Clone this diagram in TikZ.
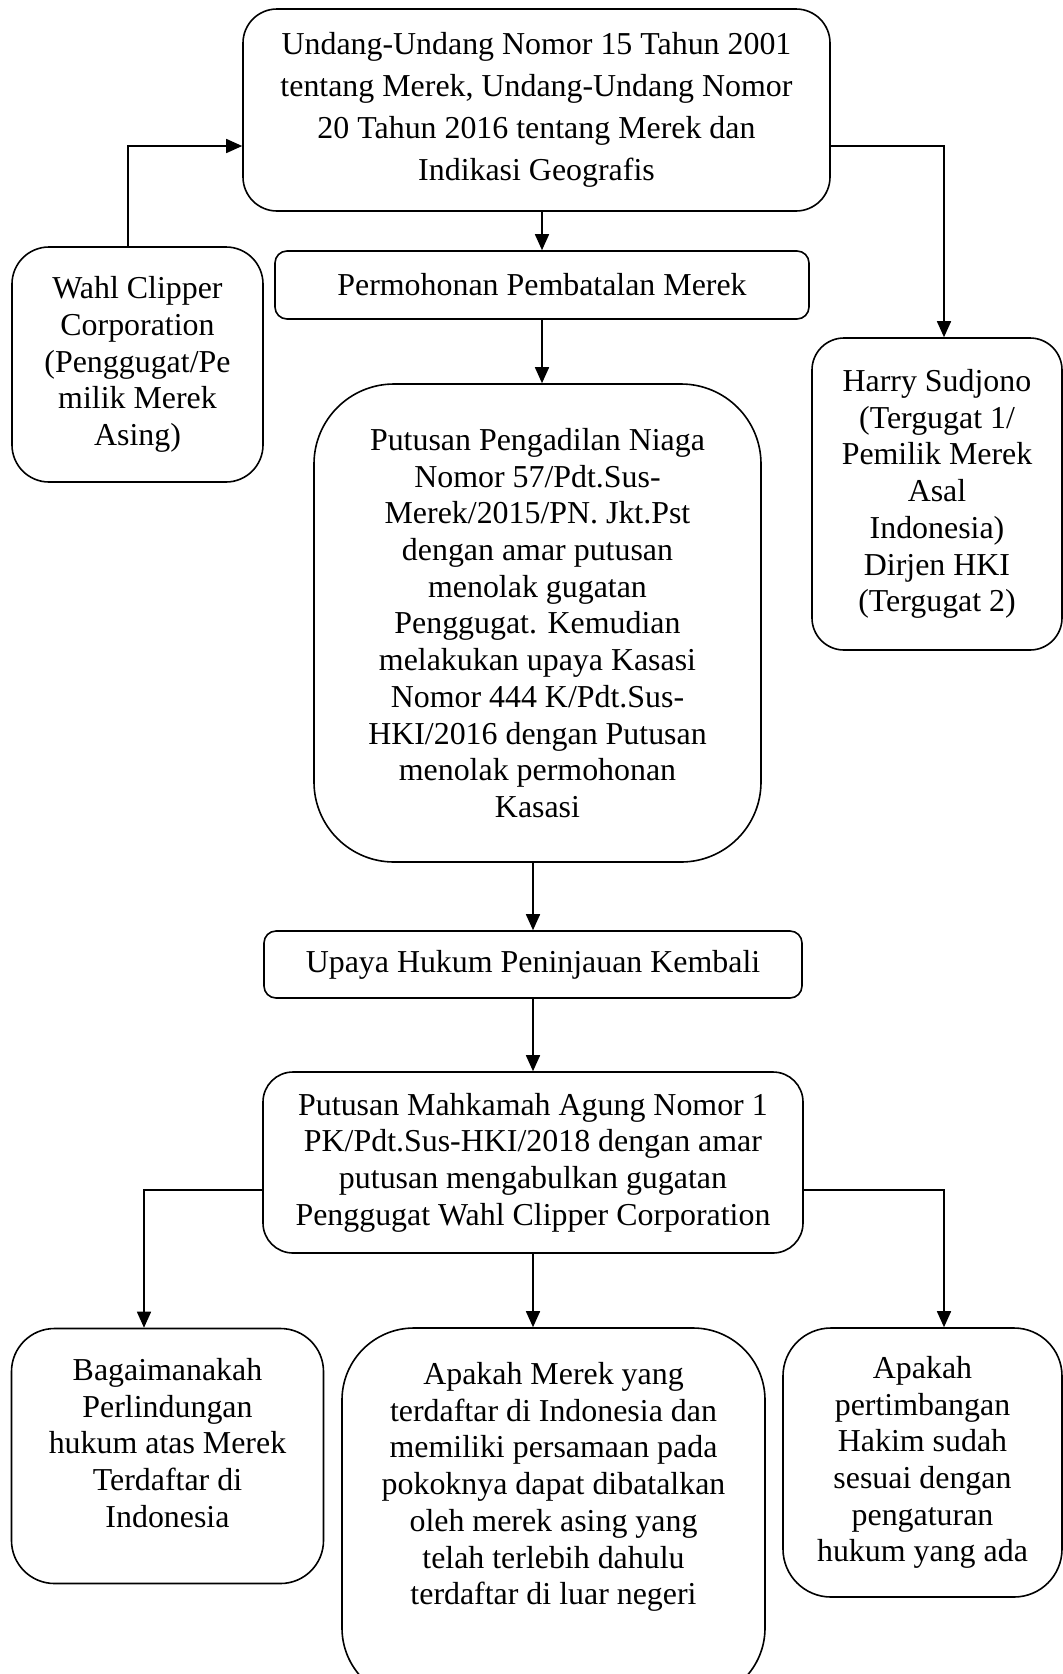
\documentclass[tikz,border=0pt]{standalone}
\usepackage{fontspec}
\setmainfont{Liberation Serif}
\usetikzlibrary{arrows.meta}

\begin{document}
\begin{tikzpicture}[x = 1pt, y = -1pt, line width = 1.6pt,
	every node/.style = {rectangle, draw = black, align = center, inner sep = 0pt},
	font = {\fontsize{31.9}{36.7}\selectfont},
	arrow/.style = {-{Triangle[length = 16pt, width = 14pt]}}]

	\useasboundingbox (0, 0) rectangle (1063, 1674);

	\node (law) [minimum width = 587pt, minimum height = 202pt, rounded corners = 34pt, font = {\fontsize{31.9}{42}\selectfont}] at (536.5, 110) {Undang-Undang Nomor 15 Tahun 2001\\tentang Merek, Undang-Undang Nomor\\20 Tahun 2016 tentang Merek dan\\Indikasi Geografis};
	\node (wahl) [minimum width = 251pt, minimum height = 235pt, rounded corners = 37pt] at (137.5, 364.5) {Wahl Clipper\\Corporation\\(Penggugat/Pe\\milik Merek\\Asing)};
	\node (mohon) [minimum width = 534pt, minimum height = 68pt, rounded corners = 12pt] at (542, 285) {Permohonan Pembatalan Merek};
	\node (harry) [minimum width = 250pt, minimum height = 312pt, rounded corners = 32pt] at (937, 494) {Harry Sudjono\\(Tergugat 1/\\Pemilik Merek\\Asal\\Indonesia)\\Dirjen HKI\\(Tergugat 2)};
	\node (pn) [minimum width = 447pt, minimum height = 478pt, rounded corners = 80pt] at (537.5, 623) {Putusan Pengadilan Niaga\\Nomor 57/Pdt.Sus-\\Merek/2015/PN. Jkt.Pst\\dengan amar putusan\\menolak gugatan\\Penggugat. Kemudian\\melakukan upaya Kasasi\\Nomor 444 K/Pdt.Sus-\\HKI/2016 dengan Putusan\\menolak permohonan\\Kasasi};

	\node (upaya) [minimum width = 538pt, minimum height = 67pt, rounded corners = 12pt] at (533, 964.5) {Upaya Hukum Peninjauan Kembali};
	\node (ma) [minimum width = 540pt, minimum height = 181pt, rounded corners = 30pt] at (533, 1162.5) {Putusan Mahkamah Agung Nomor 1\\PK/Pdt.Sus-HKI/2018 dengan amar\\putusan mengabulkan gugatan\\Penggugat Wahl Clipper Corporation};

	\node (bagaibox) [minimum width = 312pt, minimum height = 255pt, rounded corners = 43pt] at (167.5, 1456) {};
	\node (bagai) [draw = none] at (167.5, 1443) {Bagaimanakah\\Perlindungan\\hukum atas Merek\\Terdaftar di\\Indonesia};
	\node (merekbox) [minimum width = 423pt, minimum height = 372pt, rounded corners = 72pt] at (553.5, 1514) {};
	\node (merek) [draw = none] at (553.5, 1487) {Apakah Merek yang\\terdaftar di Indonesia dan\\memiliki persamaan pada\\pokoknya dapat dibatalkan\\oleh merek asing yang\\telah terlebih dahulu\\terdaftar di luar negeri};
	\node (pertimb) [minimum width = 279pt, minimum height = 269pt, rounded corners = 48pt] at (922.5, 1462.5) {Apakah\\pertimbangan\\Hakim sudah\\sesuai dengan\\pengaturan\\hukum yang ada};

	\draw [arrow] ([xshift = -9.5pt]wahl.north) |- ([yshift = -36pt]law.west);
	\draw [arrow] ([yshift = -36pt]law.east) -| ([xshift = 7pt]harry.north);
	\draw [arrow] (law.south -| mohon.north) -- (mohon.north);
	\draw [arrow] (mohon.south) -- (mohon.south |- pn.north);
	\draw [arrow] (pn.south -| upaya.north) -- (upaya.north);
	\draw [arrow] (upaya.south) -- (ma.north);
	\draw [arrow] ([yshift = -27.5pt]ma.west) -| ([xshift = -23.5pt]bagaibox.north);
	\draw [arrow] (ma.south) -- (ma.south |- merekbox.north);
	\draw [arrow] ([yshift = -27.5pt]ma.east) -| ([xshift = 21.5pt]pertimb.north);

\end{tikzpicture}
\end{document}
